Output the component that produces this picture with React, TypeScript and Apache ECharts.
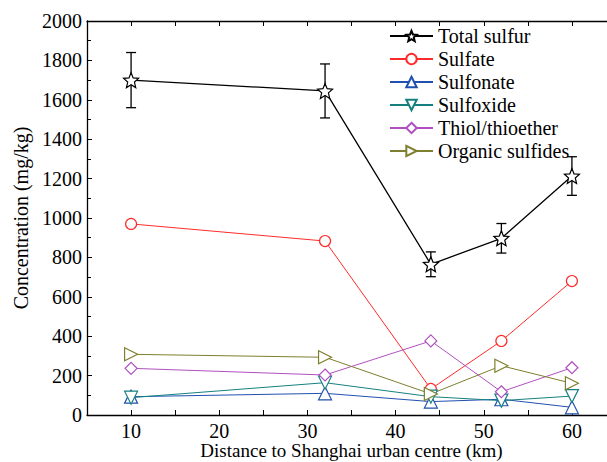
import React, { useEffect, useRef } from "react";
import * as echarts from "echarts";

const distances = [10, 32, 44, 52, 60];
const totalSulfur = [1700, 1645, 765, 897, 1213];
const totalSulfurErr = [140, 137, 63, 75, 98];
const sulfate = [970, 883, 132, 376, 680];
const sulfonate = [93, 110, 68, 80, 39];
const sulfoxide = [88, 164, 93, 73, 96];
const thiol = [237, 203, 376, 118, 240];
const organic = [308, 293, 107, 250, 161];
const seriesNames = ["Total sulfur", "Sulfate", "Sulfonate", "Sulfoxide", "Thiol/thioether", "Organic sulfides"];

const FONT = "'Liberation Serif', 'DejaVu Serif', 'Times New Roman', serif";

function starPath(): string {
  const pts: string[] = [];
  for (let i = 0; i < 10; i++) {
    const a = ((-90 + i * 36) * Math.PI) / 180;
    const r = i % 2 === 0 ? 1 : 0.45;
    pts.push(`${(Math.cos(a) * r).toFixed(4)},${(Math.sin(a) * r).toFixed(4)}`);
  }
  return "path://M" + pts.join(" L") + " Z";
}

const SYM_STAR = starPath();
const SYM_UP = "path://M1,0 L2,1.732 L0,1.732 Z";
const SYM_DOWN = "path://M0,0 L2,0 L1,1.732 Z";
const SYM_RIGHT = "path://M0,0 L1.732,1 L0,2 Z";
const SYM_DIAMOND = "path://M1,0 L2,1 L1,2 L0,1 Z";

export default function App() {
  const ref = useRef<HTMLDivElement>(null);
  useEffect(() => {
    if (!ref.current) return;
    const el = ref.current;
    const chart = echarts.init(el, null, { renderer: "svg", width: 640, height: 462 });

    const mk = (name: string, vals: number[], color: string, symbol: string, size: number, lw = 1, z = 3) => ({
      name,
      type: "line",
      data: distances.map((d, i) => [d, vals[i]]),
      symbol,
      symbolSize: size,
      showAllSymbol: true,
      color,
      lineStyle: { color, width: lw },
      itemStyle: { color: "#ffffff", borderColor: color, borderWidth: 1.2 },
      z,
    });

    const errData = distances.map((d, i) => [d, totalSulfur[i] - totalSulfurErr[i], totalSulfur[i] + totalSulfurErr[i]]);

    chart.setOption({
      animation: false,
      backgroundColor: "#ffffff",
      textStyle: { fontFamily: FONT },
      grid: { left: 87, top: 21, bottom: 47, right: 24, containLabel: false, outerBoundsMode: "none" },
      legend: {
        data: seriesNames,
        orient: "vertical",
        left: 384,
        top: 21,
        itemWidth: 43,
        itemHeight: 13,
        itemGap: 3,
        textStyle: { fontFamily: FONT, fontSize: 20, color: "#000", lineHeight: 20 },
      },
      xAxis: [
        {
          type: "value",
          min: 5,
          max: 65,
          interval: 5,
          name: "Distance to Shanghai urban centre (km)",
          nameLocation: "middle",
          nameGap: 26,
          nameMoveOverlap: false,
          nameTextStyle: { fontFamily: FONT, fontSize: 19, color: "#000" },
          axisLine: { lineStyle: { color: "#000", width: 1.3 } },
          axisTick: { inside: true, length: 5, lineStyle: { color: "#000" } },
          axisLabel: {
            fontFamily: FONT,
            fontSize: 20,
            color: "#000",
            margin: 6,
            formatter: (v: number) => (v % 10 === 0 && v >= 10 && v <= 60 ? String(v) : ""),
          },
          splitLine: { show: false },
        },
        {
          type: "value",
          min: 5,
          max: 65,
          interval: 5,
          position: "top",
          axisLine: { show: true, onZero: false, lineStyle: { color: "#000", width: 1.3 } },
          axisTick: { inside: true, length: 5, lineStyle: { color: "#000" } },
          axisLabel: { show: false },
          splitLine: { show: false },
        },
      ],
      yAxis: [
        {
          type: "value",
          min: 0,
          max: 2000,
          interval: 200,
          name: "Concentration (mg/kg)",
          nameLocation: "middle",
          nameGap: 54,
          nameTextStyle: { fontFamily: FONT, fontSize: 20, color: "#000" },
          axisLine: { show: true, lineStyle: { color: "#000", width: 1.3 } },
          axisTick: { inside: true, length: 5, lineStyle: { color: "#000" } },
          minorTick: { show: true, splitNumber: 2, length: 4, lineStyle: { color: "#000" } },
          axisLabel: { fontFamily: FONT, fontSize: 20, color: "#000", margin: 5, formatter: (v: number) => String(v) },
          splitLine: { show: false },
        },
      ],
      series: [
        {
          name: "err",
          type: "custom",
          data: errData,
          z: 2,
          renderItem: (params: any, api: any) => {
            const x = api.value(0);
            const lo = api.coord([x, api.value(1)]);
            const hi = api.coord([x, api.value(2)]);
            const hw = 5;
            const style = { stroke: "#000", lineWidth: 1.3 };
            return {
              type: "group",
              children: [
                { type: "line", shape: { x1: lo[0], y1: lo[1], x2: hi[0], y2: hi[1] }, style },
                { type: "line", shape: { x1: lo[0] - hw, y1: lo[1], x2: lo[0] + hw, y2: lo[1] }, style },
                { type: "line", shape: { x1: hi[0] - hw, y1: hi[1], x2: hi[0] + hw, y2: hi[1] }, style },
              ],
            };
          },
        },
        mk("Total sulfur", totalSulfur, "#000000", SYM_STAR, 15, 1.3, 5),
        mk("Sulfate", sulfate, "#ff2b2b", "circle", 11),
        mk("Sulfonate", sulfonate, "#2150b0", SYM_UP, 13),
        mk("Sulfoxide", sulfoxide, "#168080", SYM_DOWN, 13),
        mk("Thiol/thioether", thiol, "#b050c0", SYM_DIAMOND, 12),
        mk("Organic sulfides", organic, "#7f7f30", SYM_RIGHT, 13),
      ],
    });

    return () => {
      chart.dispose();
    };
  }, []);

  return (
    <div style={{ position: "fixed", left: 0, top: 0, width: 607, height: 462, overflow: "hidden", background: "#fff" }}>
      <div ref={ref} style={{ width: 640, height: 462 }} />
    </div>
  );
}
